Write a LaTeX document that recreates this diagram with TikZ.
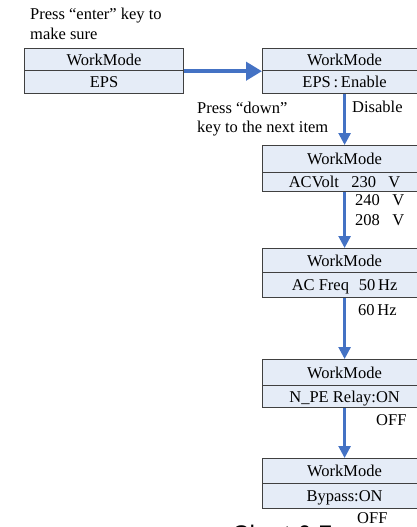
\documentclass[tikz,border=0pt]{standalone}
\usepackage{fontspec}
\setmainfont{Liberation Serif}
\newfontfamily\capfont{Liberation Sans}
\usepackage{tikz}
\usetikzlibrary{arrows.meta}
\definecolor{boxFill}{RGB}{229,236,247}
\definecolor{boxLine}{RGB}{64,64,64}
\definecolor{arrowBlue}{RGB}{68,114,196}

\begin{document}
\begin{tikzpicture}[x=1pt, y=-1pt,
			every node/.style={font=\fontsize{16.5}{19.5}\selectfont, inner sep=0pt},
			part/.style={draw=boxLine, fill=boxFill, line width=1.2pt, anchor=north west,
				minimum width=164pt, text height=11pt, text depth=0pt},
			lbl/.style={anchor=base west, align=left},
			arrow/.style={-{Triangle[length=12pt,width=12pt]}, line width=2.6pt, color=arrowBlue},
			big arrow/.style={-{Triangle[length=16pt,width=18pt]}, line width=4pt, color=arrowBlue}
			]
			\clip (0,0) rectangle (417,527);
			\node[part, minimum width=159pt, minimum height=22pt] (epsHead) at (24,48)  {WorkMode};
			\node[part, minimum width=159pt, minimum height=23pt] (epsItem) at (24,70)  {EPS};
			\node[part, minimum height=22pt] (enableHead) at (262,48)  {WorkMode};
			\node[part, minimum height=23pt] (enableItem) at (262,70)  {EPS\,:\,Enable};
			\node[part, minimum height=27pt] (voltHead) at (262,145)   {WorkMode};
			\node[part, minimum height=19pt] (voltItem) at (262,172)   {ACVolt\hspace{0.75em}230\hspace{0.75em}V};
			\node[part, minimum height=24pt] (freqHead) at (262,248)   {WorkMode};
			\node[part, minimum height=25pt] (freqItem) at (262,272)   {AC Freq\hspace{0.6em}50\,Hz};
			\node[part, minimum height=26pt] (relayHead) at (262,359)  {WorkMode};
			\node[part, minimum height=22pt] (relayItem) at (262,385)  {N\_PE Relay:ON};
			\node[part, minimum height=25pt] (bypassHead) at (262,458) {WorkMode};
			\node[part, minimum height=25pt] (bypassItem) at (262,483) {Bypass:ON};
			
			\node[lbl, font=\fontsize{16.5}{20}\selectfont] (pressEnter) at (30,40) {Press “enter” key to\\make sure};
			\node[lbl] (disable) at (352,112)  {Disable};
			\node[lbl, font=\fontsize{16.5}{19}\selectfont] (pressDown) at (197,132) {Press “down”\\key to the next item};
			\node[lbl, font=\fontsize{16.5}{19.3}\selectfont] (voltOpts) at (355,225) {240\hspace{0.75em}V\\208\hspace{0.75em}V};
			\node[lbl] (freqOpt) at (358,315)    {60\,Hz};
			\node[lbl] (relayOpt) at (376,425)   {OFF};
			\node[lbl] (bypassOpt) at (357,523)  {OFF};
			\node[anchor=north west, font=\capfont\fontsize{24}{28}\selectfont] (caption) at (232,524.5) {Chart 6-7};
			
			\draw[big arrow] (epsHead.south east) -- (enableHead.south west);
			\draw[arrow] (enableItem.south) -- (voltHead.north);
			\draw[arrow] (voltItem.south) -- (freqHead.north);
			\draw[arrow] (freqItem.south) -- (relayHead.north);
			\draw[arrow] (relayItem.south) -- (bypassHead.north);
		\end{tikzpicture}
\end{document}
